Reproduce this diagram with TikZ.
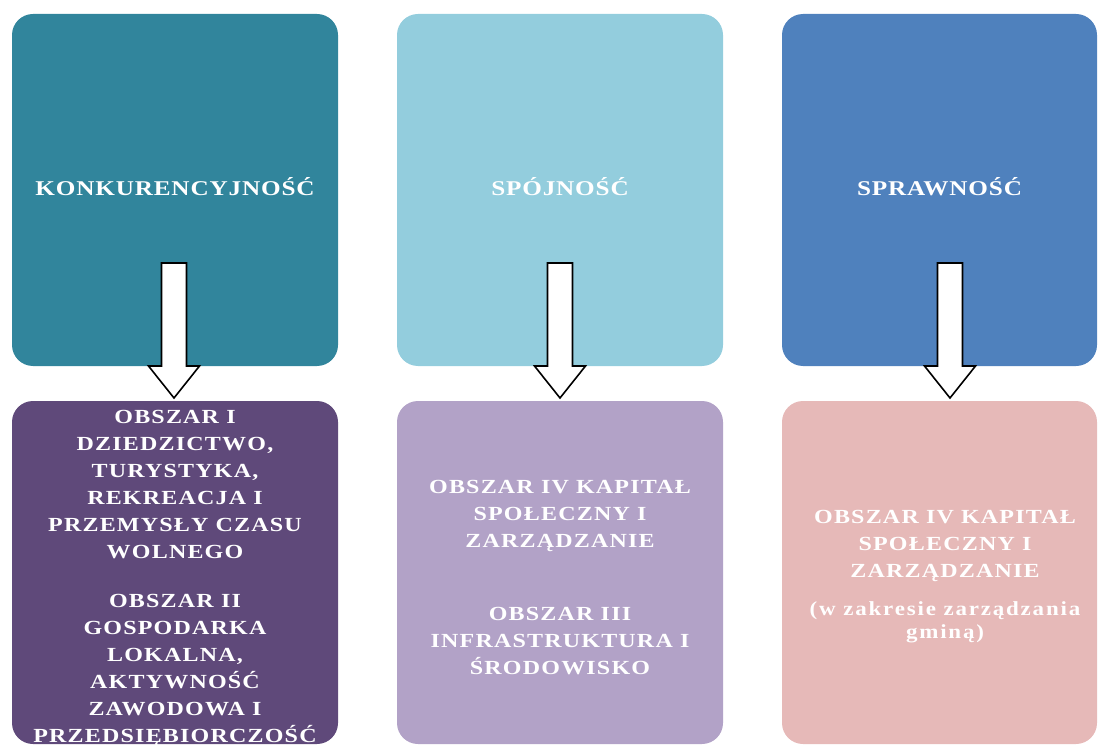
\documentclass[tikz,border=0pt]{standalone}
\usepackage{fontspec}
\setmainfont{Liberation Serif}
\newfontfamily\topfont[FakeStretch=1.2,LetterSpace=4]{Liberation Serif}
\newfontfamily\lowfont[FakeStretch=1.2,LetterSpace=6]{Liberation Serif}
\newfontfamily\parenfont[FakeStretch=1.15,LetterSpace=9]{Liberation Serif}
\usetikzlibrary{calc}
\definecolor{cteal}{HTML}{31859C}
\definecolor{clightblue}{HTML}{93CDDD}
\definecolor{cblue}{HTML}{4F81BD}
\definecolor{cdarkpurple}{HTML}{5F497A}
\definecolor{clavender}{HTML}{B2A2C7}
\definecolor{cpink}{HTML}{E6B9B8}
\begin{document}
\begin{tikzpicture}[x=1pt,y=-1pt,
  panel/.style={rectangle, rounded corners=21pt, inner sep=0pt, draw=none, fill=#1},
  toppanel/.style={panel=#1, minimum width=326pt, minimum height=352pt,
    text=white, font={\topfont\bfseries\fontsize{21}{27}\selectfont},
    text height=12pt, text depth=0pt},
  lowpanel/.style={panel=#1, minimum width=326pt, minimum height=343pt},
  lowtext/.style={inner sep=0pt, anchor=north, align=center, text=white,
    font={\lowfont\bfseries\fontsize{20}{27}\selectfont}},
  blockarrow/.style={draw=black, line width=1.6pt, fill=white, line join=miter}
]
\useasboundingbox (0,0) rectangle (1098,746);

% top row
\node[toppanel=cteal]      (t1) at (175,190)   {KONKURENCYJNOŚĆ};
\node[toppanel=clightblue] (t2) at (560,190)   {SPÓJNOŚĆ};
\node[toppanel=cblue, minimum width=315pt] (t3) at (939.5,190) {SPRAWNOŚĆ};

% bottom row
\node[lowpanel=cdarkpurple] (b1) at (175,572.5) {};
\node[lowpanel=clavender]   (b2) at (560,572.5) {};
\node[lowpanel=cpink, minimum width=315pt] (b3) at (939.5,572.5) {};

% texts
\node[lowtext] (b1t) at (175,410.2) {OBSZAR I\\ DZIEDZICTWO,\\ TURYSTYKA,\\ REKREACJA I\\ PRZEMYSŁY CZASU\\ WOLNEGO\\[22pt] OBSZAR II\\ GOSPODARKA\\ LOKALNA,\\ AKTYWNOŚĆ\\ ZAWODOWA I\\ PRZEDSIĘBIORCZOŚĆ};
\node[lowtext] (b2t) at (560,480.2) {OBSZAR IV KAPITAŁ\\ SPOŁECZNY I\\ ZARZĄDZANIE\\[46pt] OBSZAR III\\ INFRASTRUKTURA I\\ ŚRODOWISKO};
\node[lowtext] (b3t) at (945,510.2) {OBSZAR IV KAPITAŁ\\ SPOŁECZNY I\\ ZARZĄDZANIE\\[11pt] {\parenfont\bfseries(w zakresie zarządzania}\\[-4pt] {\parenfont\bfseries gminą)}};

% arrow axes
\coordinate (a1) at (174,366);
\coordinate (a2) at (560,366);
\coordinate (a3) at (950,366);
\coordinate (p1) at (174,398);
\coordinate (p2) at (560,398);
\coordinate (p3) at (950,398);

\foreach \i in {1,2,3}{
  \draw[blockarrow] ($(a\i)+(-12.5,-103)$) -- ($(a\i)+(12.5,-103)$) -- ($(a\i)+(12.5,0)$)
    -- ($(a\i)+(25.5,0)$) -- (p\i) -- ($(a\i)+(-25.5,0)$) -- ($(a\i)+(-12.5,0)$) -- cycle;
}
\end{tikzpicture}
\end{document}
